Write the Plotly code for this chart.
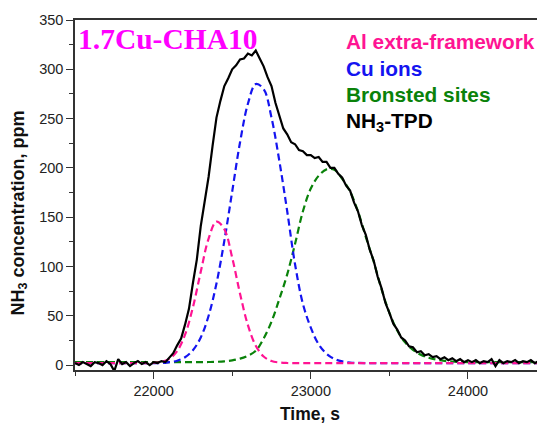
import plotly.graph_objects as go

# ---------------- data ----------------
tpd_time = list(range(21500, 24501, 25))
tpd_ppm = [2, 0, 3, 1, -1, 3, 2, 0, 4, 1, -6, 6, 1, 3, -1, 2, 4, 1, 3, 0,
           3, 2, 4, 3, 7, 12, 20, 27, 41, 57, 83, 107, 141, 164, 191, 222, 251, 268, 283, 291,
           300, 304, 310, 311, 316, 314, 319, 311, 303, 292, 283, 266, 254, 240, 234, 226, 224, 218, 217, 213,
           213, 210, 211, 206, 206, 200, 200, 194, 190, 182, 177, 165, 156, 142, 132, 117, 106, 90, 78, 63,
           53, 42, 36, 28, 25, 19, 18, 13, 14, 10, 11, 8, 9, 6, 8, 5, 7, 4, 6, 3,
           5, 3, 5, 2, 4, 3, 6, -1, 5, 2, 4, 3, 5, 2, 4, 3, 5, 2, 4, 3, 4]

fit_time = list(range(21500, 24501, 50))
al_extra = [2, 2, 2, 2, 2, 2, 2, 2, 2, 2,
            2.3, 3.3, 6.3, 14.2, 30.8, 58.5, 94.6, 128.3, 145.5, 137.8,
            109, 72.4, 40.5, 19.6, 8.7, 4.1, 2.6, 2.1,
            2, 2, 2, 2, 2, 2, 2, 2, 2, 2, 2, 2, 2, 2, 2, 2, 2, 2, 2, 2, 2, 2, 2, 2, 2, 2, 2, 2, 2, 2, 2, 2, 2]
cu_ions = [2, 2, 2, 2, 2, 2, 2, 2, 2, 2, 2, 2,
           3.0, 4.4, 7.9, 15, 28, 50, 82.7, 126, 176, 226, 265, 285, 280, 251, 207, 156, 102, 62, 38, 21,
           11.5, 6.2, 3.7, 2.6, 2.2,
           2, 2, 2, 2, 2, 2, 2, 2, 2, 2, 2, 2, 2, 2, 2, 2, 2, 2, 2, 2, 2, 2, 2, 2]
bronsted = [3, 3, 3, 3, 3, 3, 3, 3, 3, 3, 3, 3, 3, 3, 3, 3,
            3.0, 3.1, 3.3, 3.8, 4.8, 6.5, 9.5, 14.5, 27, 44, 67, 92, 123, 156, 179, 192, 198.5, 198,
            189, 176, 156, 130, 105, 77, 53, 35, 23, 15.5, 10.5, 7.5, 5.5, 4.3, 3.6, 3.2, 3.0,
            3, 3, 3, 3, 3, 3, 3, 3, 3, 3]

x_ticks = [22000, 23000, 24000]
x_tick_labels = ["22000", "23000", "24000"]
y_ticks = [0, 50, 100, 150, 200, 250, 300, 350]

PINK = "#FF1493"
BLUE = "#1414F0"
GREEN = "#0A820A"
dash = "7px,4px"

fig = go.Figure()
fig.add_trace(go.Scatter(x=fit_time, y=bronsted, mode="lines", line=dict(color=GREEN, width=2.2, dash=dash, shape="spline")))
fig.add_trace(go.Scatter(x=fit_time, y=cu_ions, mode="lines", line=dict(color=BLUE, width=2.2, dash=dash, shape="spline")))
fig.add_trace(go.Scatter(x=fit_time, y=al_extra, mode="lines", line=dict(color=PINK, width=2.2, dash=dash, shape="spline")))
fig.add_trace(go.Scatter(x=tpd_time, y=tpd_ppm, mode="lines", line=dict(color="black", width=2.2)))

axis_common = dict(showgrid=False, zeroline=False, showline=True, linecolor="#333", linewidth=1.5,
                   ticks="outside", ticklen=7, tickwidth=1.3, tickcolor="#333", automargin=False,
                   tickfont=dict(family="Liberation Sans, Arial", size=14.5, color="#222"))

fig.update_xaxes(range=[21500, 24490], tickvals=x_ticks, ticktext=x_tick_labels, mirror=True,
                 minor=dict(ticks="outside", ticklen=4, tickwidth=1.2, tickcolor="#333", dtick=500, tick0=21500),
                 **axis_common)
fig.update_yaxes(range=[-5, 350], tickvals=y_ticks, mirror=False,
                 minor=dict(ticks="outside", ticklen=4, tickwidth=1.2, tickcolor="#333", dtick=25, tick0=0),
                 **axis_common)

def ann(text, x, y, size, color, family="Liberation Sans, Arial", xanchor="left", angle=0):
    fig.add_annotation(text=text, x=x, y=y, xref="paper", yref="paper", showarrow=False,
                       xanchor=xanchor, yanchor="middle", textangle=angle,
                       font=dict(family=family, size=size, color=color))

ann("<b>1.7Cu-CHA10</b>", 0.002, 0.946, 29.5, "#FF00FF", family="Liberation Serif, Times New Roman")
ann("<b>Al extra-framework</b>", 0.573, 0.939, 20.8, PINK)
ann("<b>Cu ions</b>", 0.573, 0.862, 20.8, BLUE)
ann("<b>Bronsted sites</b>", 0.573, 0.787, 20.8, GREEN)
ann("<b>NH<sub>3</sub>-TPD</b>", 0.573, 0.708, 20.8, "black")
ann("<b>Time, s</b>", 0.5, -0.127, 17.5, "#111", xanchor="center")
ann("<b>NH<sub>3</sub> concentration, ppm</b>", -0.119, 0.447, 18, "#111", xanchor="center", angle=-90)

# the page body adds an 8px offset, so the figure is sized/placed to compensate
fig.update_layout(width=537, height=415, margin=dict(l=67, r=0, t=12, b=53, autoexpand=False),
                  plot_bgcolor="white", paper_bgcolor="white", showlegend=False)

fig.write_html("out.html")
